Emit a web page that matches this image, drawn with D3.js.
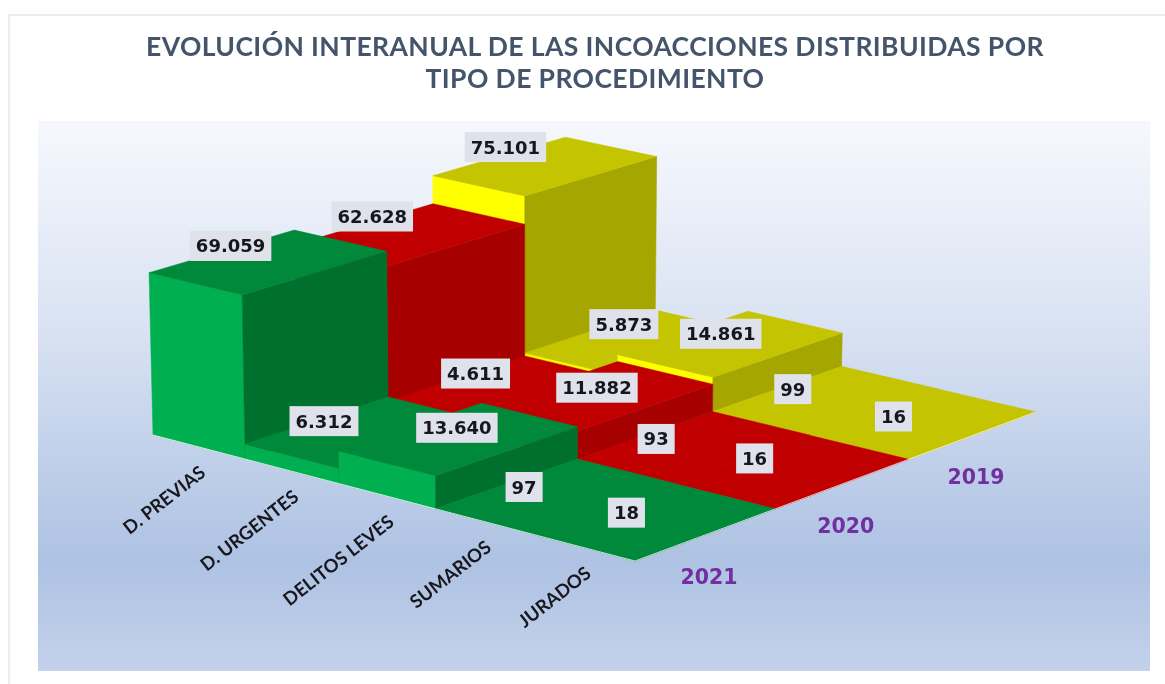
<!DOCTYPE html>
<html><head><meta charset="utf-8">
<script src="https://cdn.jsdelivr.net/npm/d3@7"></script>
<style>html,body{margin:0;background:#fff}svg{display:block;filter:blur(0.4px)}</style></head>
<body><svg id="c" width="1165" height="684"></svg>
<script>
const categories = ["D. PREVIAS","D. URGENTES","DELITOS LEVES","SUMARIOS","JURADOS"];
const seriesNames = ["2021","2020","2019"];
const values2021 = [69059,6312,13640,97,18];
const values2020 = [62628,4611,11882,93,16];
const values2019 = [75101,5873,14861,99,16];
const valueLabels2021 = ["69.059","6.312","13.640","97","18"];
const valueLabels2020 = ["62.628","4.611","11.882","93","16"];
const valueLabels2019 = ["75.101","5.873","14.861","99","16"];
const titleLines = ["EVOLUCIÓN INTERANUAL DE LAS INCOACCIONES DISTRIBUIDAS POR","TIPO DE PROCEDIMIENTO"];

const seriesValues=[values2021,values2020,values2019];
const seriesText=[valueLabels2021,valueLabels2020,valueLabels2019];
const faceColors=[
 {front:"#00b050",top:"#00883b",side:"#00702f"},
 {front:"#ff0000",top:"#c00000",side:"#a60000"},
 {front:"#ffff00",top:"#c4c400",side:"#a6a600"}];
// hand placement of the value boxes relative to the centre of each top face
const labelNudge=[
 [[-38,-16],[-40,-11],[-2,-11],[-32,-9],[-29,-9]],
 [[-38,-18],[-28,-16],[-1,-8],[-38,-8],[-38,-13]],
 [[-40,-19],[-13,-18],[-10,-10],[-33,-11],[-30,-7]]];

// floor plane of the chart, as a perspective map of the unit square
const Q=[[153,435],[635,561],[1036,412],[565,302]];
const [x0,y0]=Q[0],[x1,y1]=Q[1],[x2,y2]=Q[2],[x3,y3]=Q[3];
const dx1=x1-x2,dx2=x3-x2,sx=x0-x1+x2-x3,dy1=y1-y2,dy2=y3-y2,sy=y0-y1+y2-y3;
const den=dx1*dy2-dx2*dy1;
const g=(sx*dy2-dx2*sy)/den,h=(dx1*sy-sx*dy1)/den;
const a=x1-x0+g*x1,b=x3-x0+h*x3,d=y1-y0+g*y1,e=y3-y0+h*y3;
const uScale=d3.scaleLinear().domain([0,categories.length]).range([0,1]);
const vScale=d3.scaleLinear().domain([0,seriesNames.length]).range([0,1]);
const hScale=d3.scaleLinear().domain([0,80000]).range([0,188]);
function project(i,z,val){
  const u=uScale(i),v=vScale(z),w=g*u+h*v+1;
  const gx=(a*u+b*v+x0)/w,gy=(d*u+e*v+y0)/w,ht=hScale(val)/w;
  return [gx+ht*(gx-525)*6.6e-5,gy-ht];
}

const svg=d3.select("#c");
const defs=svg.append("defs");
const grad=defs.append("linearGradient").attr("id","bg").attr("x1",0).attr("y1",0).attr("x2",0).attr("y2",1);
[[0,"#f6f8fd"],[0.35,"#dbe4f3"],[0.8,"#aec2e3"],[1,"#c3d1eb"]].forEach(s=>grad.append("stop").attr("offset",s[0]).attr("stop-color",s[1]));

svg.append("rect").attr("x",9).attr("y",15).attr("width",1170).attr("height",690).attr("fill","#fff").attr("stroke","#e6edf3").attr("stroke-width",2);
svg.append("rect").attr("x",38).attr("y",121).attr("width",1112).attr("height",550).attr("fill","url(#bg)");

svg.append("g").selectAll("text").data(titleLines).join("text")
  .attr("x",595).attr("y",(t,i)=>56+i*32).attr("text-anchor","middle")
  .attr("font-family","Lato").attr("font-weight",700).attr("font-size",26.5).attr("letter-spacing",0.4).attr("fill","#44546a").text(t=>t);

const line=d3.line();
const plot=svg.append("g");
function quad(p,fill){plot.append("path").attr("d",line(p)+"Z").attr("fill",fill).attr("stroke",fill).attr("stroke-width",0.5);}

d3.range(seriesNames.length-1,-1,-1).forEach(z=>{
  const vals=seriesValues[z],col=faceColors[z];
  vals.forEach((val,i)=>{
    quad([project(i,z,0),project(i+1,z,0),project(i+1,z,val),project(i,z,val)],col.front);
    quad([project(i+1,z,0),project(i+1,z+1,0),project(i+1,z+1,val),project(i+1,z,val)],col.side);
    quad([project(i,z,val),project(i+1,z,val),project(i+1,z+1,val),project(i,z+1,val)],col.top);
  });
});
plot.append("path").attr("d",line([project(0,0,0),project(5,0,0),project(5,3,0)])).attr("fill","none").attr("stroke","#fff").attr("stroke-opacity",0.75).attr("stroke-width",1);

const labelG=svg.append("g");
seriesValues.forEach((vals,z)=>vals.forEach((val,i)=>{
  const [px,py]=project(i+0.5,z+0.5,val);
  const cx=px+labelNudge[z][i][0],cy=py+labelNudge[z][i][1];
  const node=labelG.append("g").attr("transform",`translate(${cx},${cy})`);
  const r=node.append("rect").attr("fill","#dfe2ea");
  const t=node.append("text").attr("text-anchor","middle").attr("y",6.5)
    .attr("font-family","DejaVu Sans").attr("font-weight",700).attr("font-size",18).attr("fill","#16161c").text(seriesText[z][i]);
  const w=t.node().getComputedTextLength()+12;
  r.attr("x",-w/2).attr("y",-15).attr("width",w).attr("height",30);
}));

categories.forEach((c,i)=>{
  const [px,py]=project(i+0.5,0,0);
  svg.append("text").attr("transform",`translate(${px+8},${py+28}) rotate(-38)`).attr("text-anchor","end")
    .attr("font-family","Lato").attr("font-weight",700).attr("font-size",18.5).attr("fill","#17171c").text(c);
});
seriesNames.forEach((s,z)=>{
  const [px,py]=project(5,z+0.5,0);
  svg.append("text").attr("x",px+3).attr("y",py+49).attr("text-anchor","middle")
    .attr("font-family","DejaVu Sans").attr("font-weight",700).attr("font-size",20.5).attr("fill","#7030a0").text(s);
});
</script></body></html>
